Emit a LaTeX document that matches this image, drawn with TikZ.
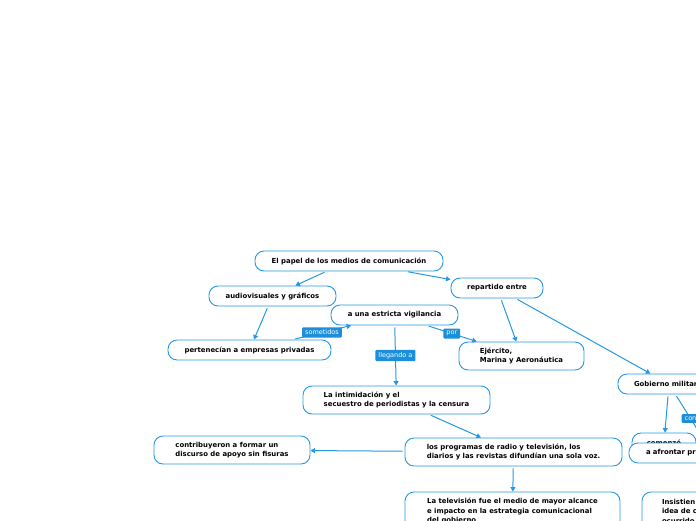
\documentclass[tikz,border=0pt]{standalone}
\usepackage{fontspec}
\setmainfont{DejaVu Sans}
\usetikzlibrary{arrows.meta,positioning}
\definecolor{mmblue}{RGB}{38,152,226}
\definecolor{mmlabel}{RGB}{27,143,220}
\newcommand{\topicfont}{\fontsize{6.9}{9.5}\selectfont\bfseries}
\newcommand{\linkfont}{\fontsize{6.5}{7}\selectfont}
\tikzset{
    topic/.style={draw=mmblue, line width=0.9pt, fill=white, rounded corners=9pt,
        inner sep=0pt, minimum height=20pt, font=\topicfont, align=left},
    link/.style={draw=mmblue, line width=1pt, shorten <=2pt,
        -{Triangle[length=4.5pt,width=5pt]}},
    linklabel/.style={fill=mmlabel, text=white, font=\linkfont,
        inner xsep=3pt, inner ysep=2.5pt, rounded corners=1pt}
}

\begin{document}
\begin{tikzpicture}[x=1pt,y=-1pt]
    % keep the page of the reference
    \useasboundingbox (0,0) rectangle (696,520);
    \clip (0,0) rectangle (696,520);

    % draw the topics
    \node[topic, minimum width=188] (papel) at (349,261) {El papel de los medios de comunicación};
    \node[topic, minimum width=127] (audio) at (272.5,296) {audiovisuales y gráficos};
    \node[topic, minimum width=92] (reparto) at (497,288) {repartido entre};
    \node[topic, minimum width=127] (vigilancia) at (394.5,315) {a una estricta vigilancia};
    \node[topic, minimum width=163] (privadas) at (249.5,350) {pertenecían a empresas privadas};
    \node[topic, minimum width=125, minimum height=28] (fuerzas) at (521.5,356) {Ejército,\\Marina y Aeronáutica};
    \node[topic, minimum width=187, minimum height=28] (censura) at (396.5,400) {La intimidación y el\\secuestro de periodistas y la censura};
    \node[topic, minimum width=102, inner xsep=16pt, text width=70pt] (gobierno) at (669,384) {Gobierno militar};
    \node[topic, minimum width=156, minimum height=28] (discurso) at (232,450) {contribuyeron a formar un\\discurso de apoyo sin fisuras};
    \node[topic, minimum width=217, minimum height=28] (voz) at (513.5,452) {los programas de radio y televisión, los\\diarios y las revistas difundían una sola voz.};
    \node[topic, minimum width=215, minimum height=38] (tele) at (512.5,511) {La televisión fue el medio de mayor alcance\\e impacto en la estrategia comunicacional\\del gobierno};

    % the topics cut by the right edge
    \node[topic, minimum width=64] (comenzo) at (664,443) {comenzó};
    \node[topic, minimum width=166, inner xsep=17pt, text width=132pt] (afrontar) at (712,453) {a afrontar pr};
    \node[topic, minimum width=215, minimum height=38, inner xsep=20pt, text width=175pt] (insistir) at (749.5,511) {Insistien\\idea de c\\ocurrido};

    % draw the connectors
    \draw[link] (papel) -- (audio);
    \draw[link] (papel) -- (reparto);
    \draw[link] (audio) -- (privadas);
    \draw[link] (privadas) -- node[linklabel]{sometidos} (vigilancia);
    \draw[link] (vigilancia) -- node[linklabel]{por} (fuerzas);
    \draw[link] (vigilancia) -- node[linklabel]{llegando a} (censura);
    \draw[link] (reparto) -- (fuerzas);
    \draw[link] (reparto) -- (gobierno);
    \draw[link] (censura) -- (voz);
    \draw[link] (voz) -- (discurso);
    \draw[link] (voz) -- (tele);
    \draw[link] (gobierno) -- (comenzo);
    \draw[link] (gobierno) -- node[linklabel]{con} (afrontar);
\end{tikzpicture}
\end{document}
